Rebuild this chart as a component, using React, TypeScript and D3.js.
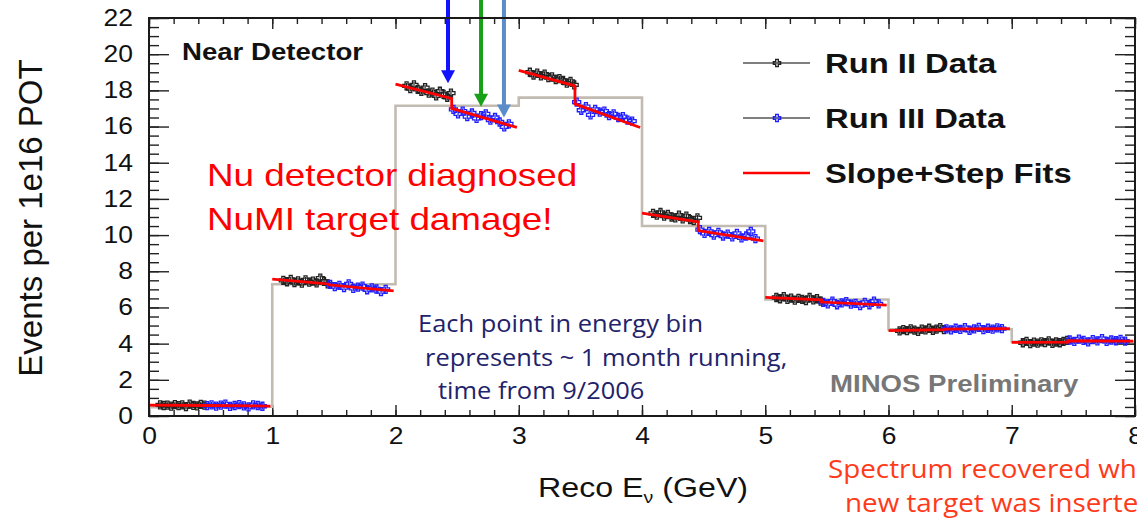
import React, { useEffect, useRef } from 'react';
import * as d3 from 'd3';

// bin lower edges (GeV) and the grey reference histogram
const binEdges = [0, 1, 2, 3, 4, 5, 6, 7];
const histValues = [0.52, 7.28, 17.15, 17.6, 10.5, 6.44, 4.79, 4.1];

// monthly points per energy bin, Run II (black) then Run III (blue)
const runTwo = [
  [0.62, 0.58, 0.6, 0.55, 0.63, 0.57, 0.61, 0.52, 0.66, 0.59, 0.56, 0.64, 0.6],
  [7.5, 7.42, 7.55, 7.38, 7.47, 7.35, 7.52, 7.4, 7.45, 7.36, 7.62, 7.44, 7.3],
  [18.25, 18.1, 18.3, 18.05, 17.95, 18.15, 17.85, 17.9, 17.7, 17.95, 17.78, 17.62, 17.85],
  [19.0, 18.85, 18.95, 18.8, 18.9, 18.7, 18.75, 18.6, 18.65, 18.55, 18.4, 18.5, 18.3],
  [11.2, 11.1, 11.25, 11.05, 11.15, 11.0, 10.95, 11.1, 10.9, 11.05, 10.85, 10.8, 10.95],
  [6.55, 6.48, 6.6, 6.45, 6.52, 6.4, 6.5, 6.45, 6.38, 6.55, 6.42, 6.48, 6.35],
  [4.7, 4.78, 4.72, 4.82, 4.75, 4.68, 4.8, 4.76, 4.85, 4.74, 4.8, 4.88, 4.78],
  [4.05, 4.12, 4.0, 4.08, 4.03, 4.1, 4.06, 4.15, 4.02, 4.09, 4.05, 4.12, 4.18],
];
const runThree = [
  [0.57, 0.62, 0.55, 0.6, 0.66, 0.53, 0.58, 0.63, 0.56, 0.5, 0.61, 0.58, 0.54],
  [7.28, 7.15, 7.22, 7.1, 7.3, 7.05, 7.12, 7.18, 6.98, 7.08, 7.02, 6.88, 7.0],
  [16.95, 16.7, 16.85, 16.55, 16.75, 16.45, 16.6, 16.7, 16.35, 16.5, 16.25, 15.98, 16.15],
  [17.35, 16.9, 17.1, 16.65, 16.95, 16.8, 16.85, 16.6, 16.7, 16.5, 16.55, 16.35, 16.3],
  [10.3, 10.1, 10.2, 10.0, 10.15, 9.95, 10.05, 9.9, 10.1, 9.85, 9.95, 10.2, 9.8],
  [6.28, 6.2, 6.35, 6.15, 6.25, 6.32, 6.18, 6.22, 6.1, 6.28, 6.15, 6.35, 6.2],
  [4.82, 4.76, 4.85, 4.79, 4.88, 4.74, 4.82, 4.9, 4.78, 4.85, 4.8, 4.87, 4.83],
  [4.2, 4.12, 4.25, 4.18, 4.1, 4.22, 4.15, 4.28, 4.12, 4.2, 4.16, 4.24, 4.14],
];

// slope+step fit: value at bin start, just before step, just after step, bin end
const fitStart = [0.6, 7.57, 18.34, 19.1, 11.22, 6.56, 4.72, 4.07];
const fitBefore = [0.58, 7.3, 17.55, 18.25, 10.73, 6.42, 4.77, 4.08];
const fitAfter = [0.58, 7.25, 17.0, 17.25, 10.25, 6.3, 4.8, 4.16];
const fitEnd = [0.55, 6.92, 15.95, 15.95, 9.68, 6.13, 4.83, 4.14];

// arrows marking the target damage (energy, tip height)
const arrowE = [2.426, 2.694, 2.88];
const arrowTip = [18.4, 17.1, 16.5];

const xTickLabels = ['0', '1', '2', '3', '4', '5', '6', '7', '8'];
const yTickLabels = ['0', '2', '4', '6', '8', '10', '12', '14', '16', '18', '20', '22'];
const legendLabels = ['Run II Data', 'Run III Data', 'Slope+Step Fits'];

const SX = 1.15; // the picture is a bit wider than tall
const ARIAL = 'Liberation Sans, Arial, sans-serif';
const CALIBRI = 'Open Sans, Noto Sans, sans-serif';

const crossPath = (s: number, a: number) =>
  `M${-a},${-s}H${a}V${-a}H${s}V${a}H${a}V${s}H${-a}V${a}H${-s}V${-a}H${-a}Z`;

export default function App() {
  const ref = useRef<SVGSVGElement>(null);

  useEffect(() => {
    drawChart();
  }, []);

  const drawChart = () => {
    const svg = d3.select(ref.current);
    svg.selectAll('*').remove();

    const left = 149, right = 1135, top = 18, bottom = 416;
    const x = d3.scaleLinear().domain([0, 8]).range([left, right]);
    const y = d3.scaleLinear().domain([0, 22]).range([bottom, top]);

    svg.append('rect').attr('width', 1137).attr('height', 520).attr('fill', '#fff');

    // ticks, ROOT style: pointing inside, mirrored on top and right
    const styleAxis = (g: any) => {
      g.select('.domain').remove();
      g.selectAll('line').attr('stroke', '#222').attr('stroke-width', 1.4);
    };
    const yMajor = yTickLabels.map(Number);
    const xMajor = xTickLabels.map(Number);

    svg.append('g').attr('transform', `translate(${left},0)`)
      .call(d3.axisLeft(y).tickValues(d3.range(0, 22.01, 0.5)).tickSize(-10).tickFormat(() => ''))
      .call(styleAxis);
    svg.append('g').attr('transform', `translate(${right},0)`)
      .call(d3.axisRight(y).tickValues(d3.range(0, 22.01, 0.5)).tickSize(-10).tickFormat(() => ''))
      .call(styleAxis);
    svg.append('g').attr('transform', `translate(${right},0)`)
      .call(d3.axisRight(y).tickValues(yMajor).tickSize(-20).tickFormat(() => ''))
      .call(styleAxis);
    const yAxis = svg.append('g').attr('transform', `translate(${left},0)`)
      .call(d3.axisLeft(y).tickValues(yMajor).tickSize(-20).tickPadding(14).tickFormat((d: any, i: number) => yTickLabels[i]))
      .call(styleAxis);
    yAxis.selectAll('text').attr('font-size', 23).attr('font-family', ARIAL).attr('fill', '#111')
      .attr('transform', `scale(${SX},1)`);

    svg.append('g').attr('transform', `translate(0,${bottom})`)
      .call(d3.axisBottom(x).tickValues(d3.range(0, 8.01, 0.2)).tickSize(-6).tickFormat(() => ''))
      .call(styleAxis);
    svg.append('g').attr('transform', `translate(0,${top})`)
      .call(d3.axisTop(x).tickValues(d3.range(0, 8.01, 0.2)).tickSize(-6).tickFormat(() => ''))
      .call(styleAxis);
    svg.append('g').attr('transform', `translate(0,${top})`)
      .call(d3.axisTop(x).tickValues(xMajor).tickSize(-11).tickFormat(() => ''))
      .call(styleAxis);
    const xAxis = svg.append('g').attr('transform', `translate(0,${bottom})`)
      .call(d3.axisBottom(x).tickValues(xMajor).tickSize(-11).tickPadding(12).tickFormat((d: any, i: number) => xTickLabels[i]))
      .call(styleAxis);
    xAxis.selectAll('text').attr('font-size', 23).attr('font-family', ARIAL).attr('fill', '#111')
      .attr('transform', `scale(${SX},1)`);

    // grey histogram
    const histPts: [number, number][] = binEdges.map((b, i) => [b, histValues[i]]);
    histPts.push([8, histValues[histValues.length - 1]]);
    svg.append('path')
      .attr('d', d3.line<[number, number]>().x(d => x(d[0])).y(d => y(d[1])).curve(d3.curveStepAfter)(histPts))
      .attr('fill', 'none').attr('stroke', '#c2bbb2').attr('stroke-width', 2.6);

    // data points
    const offTwo = d3.scaleLinear().domain([0, 12]).range([0.09, 0.45]);
    const offThree = d3.scaleLinear().domain([0, 12]).range([0.47, 0.92]);
    const drawRun = (vals: number[][], off: any, color: string) => {
      binEdges.forEach((b, bi) => {
        const g = svg.append('g');
        vals[bi].forEach((v, i) => {
          const px = x(b + off(i));
          g.append('line').attr('x1', px).attr('x2', px)
            .attr('y1', y(v - 0.16)).attr('y2', y(v + 0.16))
            .attr('stroke', color).attr('stroke-width', 1.2);
          g.append('path').attr('d', crossPath(4, 1.5))
            .attr('transform', `translate(${px},${y(v)})`)
            .attr('fill', 'none').attr('stroke', color).attr('stroke-width', 1.3);
        });
      });
    };
    drawRun(runTwo, offTwo, '#222');
    drawRun(runThree, offThree, '#1f1fff');

    // fits
    const fitLine = d3.line<[number, number]>().x(d => x(d[0])).y(d => y(d[1]));
    binEdges.forEach((b, i) => {
      const pts: [number, number][] = [
        [b, fitStart[i]], [b + 0.456, fitBefore[i]], [b + 0.456, fitAfter[i]], [b + 0.985, fitEnd[i]],
      ];
      svg.append('path').attr('d', fitLine(pts))
        .attr('fill', 'none').attr('stroke', '#ff0000').attr('stroke-width', 2.8);
    });

    // arrows
    const arrowColors = ['#1212ff', '#18a018', '#5b8ec8'];
    arrowE.forEach((e, i) => {
      const ax = x(e), tip = y(arrowTip[i]);
      svg.append('line').attr('x1', ax).attr('x2', ax).attr('y1', 0).attr('y2', tip - 11)
        .attr('stroke', arrowColors[i]).attr('stroke-width', 4);
      svg.append('path').attr('d', `M${ax - 7},${tip - 13}L${ax + 7},${tip - 13}L${ax},${tip}Z`)
        .attr('fill', arrowColors[i]);
    });

    // legend
    const legendRows = [63, 118, 173];
    legendLabels.forEach((label, i) => {
      const ly = legendRows[i];
      svg.append('line').attr('x1', 743).attr('x2', 810).attr('y1', ly).attr('y2', ly)
        .attr('stroke', i === 2 ? '#ff0000' : '#555').attr('stroke-width', i === 2 ? 2.6 : 1.4);
      if (i < 2) {
        const c = i === 0 ? '#222' : '#1f1fff';
        svg.append('path').attr('d', crossPath(3.6, 1.3)).attr('transform', `translate(777,${ly})`)
          .attr('fill', 'none').attr('stroke', c).attr('stroke-width', 1.4);
      }
      svg.append('text').text(label)
        .attr('transform', `translate(825,${ly + 10}) scale(${SX},1)`)
        .attr('font-family', ARIAL).attr('font-weight', 'bold').attr('font-size', 28.5).attr('fill', '#111');
    });

    const addText = (t: string, tx: number, ty: number, size: number, color: string,
      opts: { bold?: boolean; family?: string; sx?: number } = {}) => {
      svg.append('text').text(t)
        .attr('transform', `translate(${tx},${ty}) scale(${opts.sx ?? SX},1)`)
        .attr('font-family', opts.family ?? ARIAL)
        .attr('font-weight', opts.bold ? 'bold' : 'normal')
        .attr('font-size', size).attr('fill', color);
    };

    addText('Near Detector', 182, 60, 24, '#111', { bold: true });
    addText('Nu detector diagnosed', 207, 186, 32, '#ff0000');
    addText('NuMI target damage!', 207, 230, 32, '#ff0000');
    addText('Each point in energy bin', 418, 332, 24, '#22226a', { family: CALIBRI, sx: 1.06 });
    addText('represents ~ 1 month running,', 425, 366, 24, '#22226a', { family: CALIBRI, sx: 1.06 });
    addText('time from 9/2006', 438, 399, 24, '#22226a', { family: CALIBRI, sx: 1.06 });
    addText('MINOS Preliminary', 830, 392, 24, '#777', { bold: true });
    addText('Spectrum recovered when', 828, 478, 26, '#ff3a1a', { family: CALIBRI, sx: 1.07 });
    addText('new target was inserted', 845, 512, 26, '#ff3a1a', { family: CALIBRI, sx: 1.07 });

    // axis titles
    const xt = svg.append('text').attr('transform', `translate(538,497) scale(${SX},1)`)
      .attr('font-family', ARIAL).attr('font-size', 28).attr('fill', '#111');
    xt.append('tspan').text('Reco E');
    xt.append('tspan').text('ν').attr('font-size', 17).attr('dy', 6);
    xt.append('tspan').text(' (GeV)').attr('dy', -6);

    svg.append('text').text('Events per 1e16 POT')
      .attr('transform', 'translate(42,218) rotate(-90)')
      .attr('text-anchor', 'middle')
      .attr('font-family', ARIAL).attr('font-size', 33).attr('fill', '#111');

    // frame
    svg.append('rect').attr('x', left).attr('y', top).attr('width', right - left).attr('height', bottom - top)
      .attr('fill', 'none').attr('stroke', '#1a1a1a').attr('stroke-width', 2);
  };

  return (
    <div style={{ position: 'absolute', left: 0, top: 0 }}>
      <svg ref={ref} width={1137} height={520} style={{ display: 'block' }} />
    </div>
  );
}
